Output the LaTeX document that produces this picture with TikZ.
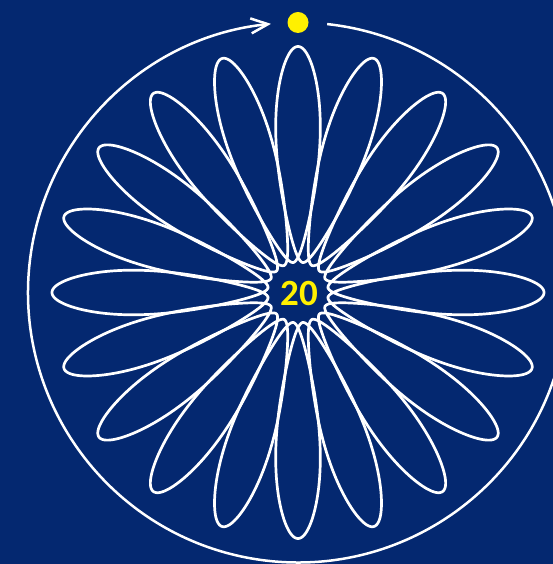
\documentclass[tikz,border=0pt]{standalone}
\usepackage{fontspec}
\newfontfamily\numfont{Carlito}
\usetikzlibrary{arrows.meta}
\definecolor{bg}{RGB}{4,40,112}
\definecolor{sun}{RGB}{255,240,0}
\begin{document}
\begin{tikzpicture}[x=1pt,y=1pt,
  petal/.style={draw=white, line width=2.7pt, line join=round, line cap=round},
  orbit/.style={draw=white, line width=2.5pt, -{Straight Barb[length=17pt,width=15pt]}}]
\fill[bg] (-298,-271.5) rectangle (255,292.5);
\useasboundingbox (-298,-271.5) rectangle (255,292.5);
\coordinate (c) at (0,0);
\draw[orbit] (c) ++(83.8:270) arc[start angle=83.8, end angle=-264.26, radius=270];
\node[circle, fill=sun, minimum size=21pt, inner sep=0pt] (dot) at (0,270) {};
\foreach \k in {0,...,19}{
  \draw[petal, rotate=90+18*\k] plot[domain=0:360, samples=241, variable=\s]
    ({135.5-105.5*cos(\s)+5.0*sin(\s/2)},
     {22.92*sin(\s)-3.98*sin(2*\s)-1.383*sin(3*\s)-4.75*cos(\s/2)+5.0*sin(\s)*((1+cos(\s))/2)^4});
}
\node[text=sun, font=\numfont\bfseries\fontsize{37}{40}\selectfont] (num) at (1,-0.5) {20};
\end{tikzpicture}
\end{document}
